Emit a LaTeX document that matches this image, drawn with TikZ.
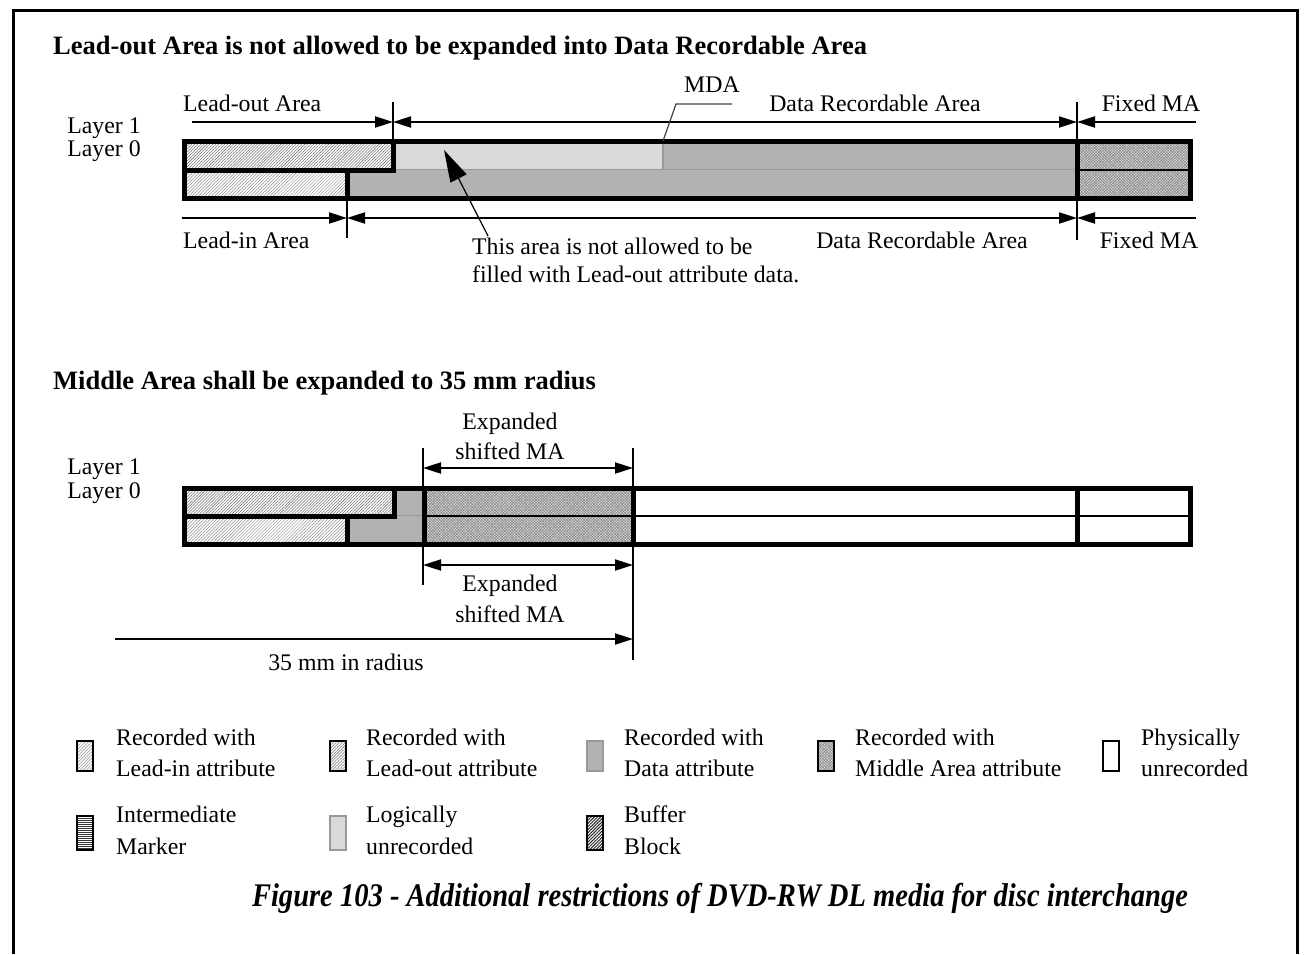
\documentclass[tikz,border=0pt]{standalone}
\usepackage{fontspec}
\setmainfont{Liberation Serif}
\usetikzlibrary{arrows.meta,patterns.meta}
\tikzset{
  thickln/.style={line width=5pt,line join=miter},
  thinblk/.style={line width=1.8pt},
  grayln/.style={line width=1.5pt,draw=black!40},
  tickln/.style={line width=1.6pt},
  dimln/.style={line width=2pt,arrows={-Triangle[length=18pt,width=11pt]}},
  dimboth/.style={line width=2pt,arrows={Triangle[length=18pt,width=11pt]-Triangle[length=18pt,width=11pt]}},
  lbl/.style={inner sep=0pt,text height=16pt,text depth=0pt,font=\fontsize{23.8}{27}\selectfont},
  ttl/.style={inner sep=0pt,font=\fontsize{26.5}{30}\selectfont\bfseries},
  leadin/.style={pattern={Lines[angle=45,distance=2.3pt,line width=0.5pt]},pattern color=black!45},
  leadout/.style={pattern={Lines[angle=45,distance=2.1pt,line width=0.55pt]},pattern color=black!55},
  datafill/.style={fill=black!30},
  logfill/.style={fill=black!15},
  mafillA/.style={fill=black!15},
  mafillB/.style={pattern={Lines[angle=45,distance=2pt,line width=0.45pt]},pattern color=black!50},
  mafillC/.style={pattern={Lines[angle=-45,distance=2pt,line width=0.45pt]},pattern color=black!50},
  imfill/.style={pattern={Lines[angle=0,distance=2pt,line width=0.8pt]},pattern color=black!80},
  buffill/.style={pattern={Lines[angle=45,distance=2.2pt,line width=1pt]},pattern color=black!85},
  legbox/.style={line width=2pt},
}
\newcommand{\mafill}[2]{%
  \fill[mafillA] #1 rectangle #2;
  \fill[mafillB] #1 rectangle #2;
  \fill[mafillC] #1 rectangle #2;}
\begin{document}
\begin{tikzpicture}[x=1pt,y=-1pt]
\useasboundingbox (0,0) rectangle (1307,954);
% frame
\draw[line width=3pt] (13,954) -- (13,10) -- (1297,10) -- (1297,954);

% ===== Top diagram =====
\node[ttl,anchor=west] (t1) at (53,48) {Lead-out Area is not allowed to be expanded into Data Recordable Area};
\node[lbl] (l1a) at (104,125) {Layer 1};
\node[lbl] (l0a) at (104,148) {Layer 0};

\fill[leadout] (184,141) rectangle (393,170);
\fill[logfill] (393,141) rectangle (663,170);
\fill[datafill] (663,141) rectangle (1077,170);
\fill[leadin] (184,170) rectangle (347,198);
\fill[datafill] (347,170) rectangle (1077,198);
\mafill{(1077,141)}{(1190,198)}
\draw[grayln] (393,169.5) -- (1077,169.5);
\draw[grayln] (663,141) -- (663,170);
\draw[thinblk] (1077,170) -- (1190,170);
\draw[thickln] (184,141) rectangle (1190,198);
\draw[thickln] (184,170) -- (393,170) -- (393,141);
\draw[thickln] (347,170) -- (347,198);
\draw[thickln] (1077,141) -- (1077,198);

\coordinate (a1) at (393,122);
\coordinate (a2) at (1077,122);
\coordinate (a0) at (192,122);
\coordinate (a3) at (1196,122);
\draw[tickln] (393,102) -- (393,141);
\draw[tickln] (1077,102) -- (1077,141);
\draw[dimln] (a0) -- (a1);
\draw[dimboth] (a1) -- (a2);
\draw[dimln] (a3) -- (a2);

\node[lbl,anchor=west] (loa) at (183,103) {Lead-out Area};
\node[lbl] (mda) at (712,84) {MDA};
\node[lbl] (dra) at (875,103) {Data Recordable Area};
\node[lbl] (fma) at (1151,103) {Fixed MA};
\draw[line width=1.2pt,draw=black!75] (663,141) -- (676,104) -- (732,104);

\coordinate (b1) at (347,218);
\coordinate (b2) at (1077,218);
\coordinate (b0) at (182,218);
\coordinate (b3) at (1196,218);
\draw[tickln] (347,198) -- (347,238);
\draw[tickln] (1077,198) -- (1077,240);
\draw[dimln] (b0) -- (b1);
\draw[dimboth] (b1) -- (b2);
\draw[dimln] (b3) -- (b2);

\node[lbl,anchor=west] (lia) at (183,240) {Lead-in Area};
\node[lbl] (drb) at (922,240) {Data Recordable Area};
\node[lbl] (fmb) at (1149,240) {Fixed MA};
\node[lbl,anchor=west] (n1) at (472,246) {This area is not allowed to be};
\node[lbl,anchor=west] (n2) at (472,274) {filled with Lead-out attribute data.};
\coordinate (cstart) at (488,236);
\coordinate (ctip) at (444,150);
\draw[line width=1.2pt,arrows={-Triangle[length=32pt,width=18pt]}] (cstart) -- (ctip);

% ===== Second diagram =====
\node[ttl,anchor=west] (t2) at (53,383) {Middle Area shall be expanded to 35 mm radius};
\node[lbl] (l1b) at (104,466) {Layer 1};
\node[lbl] (l0b) at (104,490) {Layer 0};

\fill[leadout] (184,488) rectangle (394,516);
\fill[datafill] (394,488) rectangle (424,516);
\fill[leadin] (184,516) rectangle (347,544);
\fill[datafill] (347,516) rectangle (424,544);
\mafill{(424,488)}{(633,544)}
\draw[grayln] (394,515.5) -- (424,515.5);
\draw[thinblk] (424,516) -- (1190,516);
\draw[thickln] (184,488) rectangle (1190,544);
\draw[thickln] (184,516) -- (394,516) -- (394,488);
\draw[thickln] (347,516) -- (347,544);
\draw[thickln] (424,488) -- (424,544);
\draw[thickln] (633,488) -- (633,544);
\draw[thickln] (1077,488) -- (1077,544);

\coordinate (c1) at (423,468);
\coordinate (c2) at (633,468);
\draw[tickln] (423,448) -- (423,488);
\draw[tickln] (633,448) -- (633,488);
\draw[dimboth] (c1) -- (c2);
\node[lbl] (e1) at (510,421) {Expanded};
\node[lbl] (e2) at (510,451) {shifted MA};

\coordinate (d1) at (423,565);
\coordinate (d2) at (633,565);
\draw[tickln] (423,544) -- (423,585);
\draw[tickln] (633,544) -- (633,660);
\draw[dimboth] (d1) -- (d2);
\node[lbl] (e3) at (510,583) {Expanded};
\node[lbl] (e4) at (510,614) {shifted MA};
\coordinate (r0) at (115,639);
\coordinate (r1) at (633,639);
\draw[dimln] (r0) -- (r1);
\node[lbl] (rad) at (346,662) {35 mm in radius};

% ===== Legend =====
\fill[leadin] (77,741) rectangle (93,771);
\draw[legbox] (77,741) rectangle (93,771);
\node[lbl,anchor=west] (g1a) at (116,737) {Recorded with};
\node[lbl,anchor=west] (g1b) at (116,768) {Lead-in attribute};

\fill[leadout] (330,741) rectangle (346,771);
\draw[legbox] (330,741) rectangle (346,771);
\node[lbl,anchor=west] (g2a) at (366,737) {Recorded with};
\node[lbl,anchor=west] (g2b) at (366,768) {Lead-out attribute};

\fill[datafill] (587,741) rectangle (603,771);
\draw[legbox,draw=black!40] (587,741) rectangle (603,771);
\node[lbl,anchor=west] (g3a) at (624,737) {Recorded with};
\node[lbl,anchor=west] (g3b) at (624,768) {Data attribute};

\mafill{(818,741)}{(834,771)}
\draw[legbox] (818,741) rectangle (834,771);
\node[lbl,anchor=west] (g4a) at (855,737) {Recorded with};
\node[lbl,anchor=west] (g4b) at (855,768) {Middle Area attribute};

\draw[legbox] (1103,741) rectangle (1119,771);
\node[lbl,anchor=west] (g5a) at (1141,737) {Physically};
\node[lbl,anchor=west] (g5b) at (1141,768) {unrecorded};

\fill[imfill] (77,816) rectangle (93,850);
\draw[legbox] (77,816) rectangle (93,850);
\node[lbl,anchor=west] (g6a) at (116,814) {Intermediate};
\node[lbl,anchor=west] (g6b) at (116,846) {Marker};

\fill[logfill] (330,816) rectangle (346,850);
\draw[legbox,draw=black!40] (330,816) rectangle (346,850);
\node[lbl,anchor=west] (g7a) at (366,814) {Logically};
\node[lbl,anchor=west] (g7b) at (366,846) {unrecorded};

\fill[buffill] (587,816) rectangle (603,850);
\draw[legbox] (587,816) rectangle (603,850);
\node[lbl,anchor=west] (g8a) at (624,814) {Buffer};
\node[lbl,anchor=west] (g8b) at (624,846) {Block};

% caption
\node[inner sep=0pt] (cap) at (720,898) {\scalebox{0.865}[1]{\fontsize{33}{36}\selectfont\bfseries\itshape Figure 103 - Additional restrictions of DVD-RW DL media for disc interchange}};
\end{tikzpicture}
\end{document}
